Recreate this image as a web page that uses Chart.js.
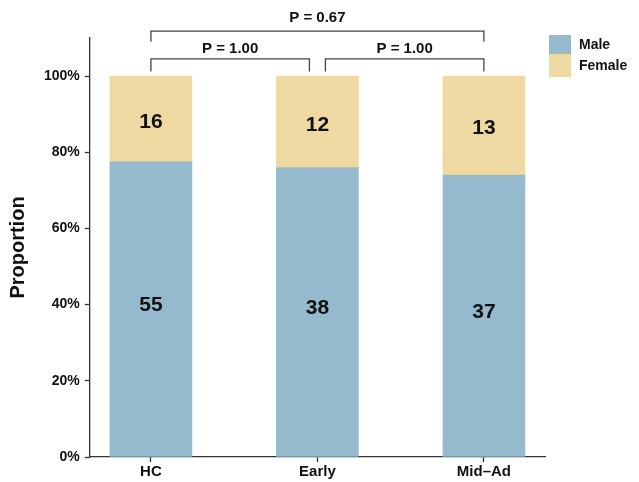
<!DOCTYPE html>
<html>
<head>
<meta charset="utf-8">
<script src="https://cdn.jsdelivr.net/npm/chart.js@4.4.0/dist/chart.umd.min.js"></script>
<style>
  html, body { margin: 0; padding: 0; background: #fff; }
  #wrap { width: 639px; height: 482px; }
</style>
</head>
<body>
<div id="wrap"><canvas id="chartCanvas"></canvas></div>
<script>
const groups = ['HC', 'Early', 'Mid\u2013Ad'];
const maleCounts = [55, 38, 37];
const femaleCounts = [16, 12, 13];
const yTicks = [0, 0.2, 0.4, 0.6, 0.8, 1.0];
const comparisons = [
  { from: 0, to: 1, label: 'P = 1.00', level: 0 },
  { from: 1, to: 2, label: 'P = 1.00', level: 0 },
  { from: 0, to: 2, label: 'P = 0.67', level: 1 }
];

const maleColor = '#95bace';
const femaleColor = '#eed9a3';
const font = 'Arial, "Liberation Sans", sans-serif';

const totals = maleCounts.map((m, i) => m + femaleCounts[i]);
const maleData = maleCounts.map((m, i) => ({ x: i, y: m / totals[i] }));
const femaleData = femaleCounts.map((f, i) => ({ x: i, y: f / totals[i] }));

const extras = {
  id: 'extras',
  afterDatasetsDraw(chart) {
    const c = chart.ctx;
    const xs = chart.scales.x, ys = chart.scales.y;
    c.save();
    // counts inside the bars
    c.fillStyle = '#111';
    c.font = 'bold 21px ' + font;
    c.textAlign = 'center';
    c.textBaseline = 'middle';
    groups.forEach((g, i) => {
      const m = maleData[i].y;
      c.fillText(maleCounts[i], xs.getPixelForValue(i), ys.getPixelForValue(m / 2) - 4);
      c.fillText(femaleCounts[i], xs.getPixelForValue(i), ys.getPixelForValue(m + (1 - m) / 2) + 3);
    });

    // significance brackets
    c.strokeStyle = '#444';
    c.lineWidth = 1.3;
    c.font = 'bold 15px ' + font;
    c.textBaseline = 'alphabetic';
    comparisons.forEach(cp => {
      const top = cp.level ? 1.118 : 1.045;
      const foot = cp.level ? 1.09 : 1.012;
      let x1 = xs.getPixelForValue(cp.from), x2 = xs.getPixelForValue(cp.to);
      if (!cp.level) {
        if (cp.from === 1) x1 += 8; else x2 -= 8;
      }
      const yt = ys.getPixelForValue(top), yf = ys.getPixelForValue(foot);
      c.beginPath();
      c.moveTo(x1, yf); c.lineTo(x1, yt); c.lineTo(x2, yt); c.lineTo(x2, yf);
      c.stroke();
      c.fillStyle = '#111';
      c.fillText(cp.label, (x1 + x2) / 2, yt - (cp.level ? 9 : 6));
    });

    // legend
    const lx = 549, ly = 35, w = 22, h = 19;
    c.fillStyle = maleColor;
    c.fillRect(lx, ly, w, h);
    c.fillStyle = femaleColor;
    c.fillRect(lx, ly + h, w, h + 4);
    c.fillStyle = '#111';
    c.font = 'bold 14px ' + font;
    c.textAlign = 'left';
    c.textBaseline = 'middle';
    c.fillText('Male', lx + 30, ly + 10);
    c.fillText('Female', lx + 30, ly + 31);
    c.restore();
  }
};

new Chart(document.getElementById('chartCanvas').getContext('2d'), {
  type: 'bar',
  data: {
    datasets: [
      { label: 'Male', data: maleData, backgroundColor: maleColor, barThickness: 82 },
      { label: 'Female', data: femaleData, backgroundColor: femaleColor, barThickness: 82 }
    ]
  },
  options: {
    responsive: true,
    maintainAspectRatio: false,
    animation: false,
    layout: { padding: { top: 38, right: 94, left: 2, bottom: 0 } },
    plugins: { legend: { display: false }, tooltip: { enabled: false } },
    scales: {
      x: {
        type: 'linear',
        stacked: true,
        offset: false,
        bounds: 'data',
        min: -0.367,
        max: 2.367,
        grid: { display: true, drawOnChartArea: false, offset: false, drawTicks: true, tickLength: 5, tickColor: '#333', tickWidth: 1.3 },
        border: { display: true, color: '#333', width: 1.3 },
        afterBuildTicks: s => { s.ticks = groups.map((g, i) => ({ value: i })); },
        ticks: {
          callback: v => groups[v],
          color: '#111',
          font: { family: font, size: 15, weight: 'bold' },
          padding: 1
        }
      },
      y: {
        stacked: true,
        bounds: 'data',
        min: 0,
        max: 1.1,
        grid: { display: true, drawOnChartArea: false, drawTicks: true, tickLength: 5, tickColor: '#333', tickWidth: 1.3 },
        border: { display: true, color: '#333', width: 1.3 },
        afterBuildTicks: s => { s.ticks = yTicks.map(v => ({ value: v })); },
        ticks: {
          callback: v => Math.round(v * 100) + '%',
          color: '#111',
          font: { family: font, size: 14, weight: 'bold' },
          padding: 5
        },
        title: {
          display: true,
          text: 'Proportion',
          color: '#111',
          font: { family: font, size: 20, weight: 'bold' },
          padding: { bottom: 9 }
        }
      }
    }
  },
  plugins: [extras]
});
</script>
</body>
</html>
